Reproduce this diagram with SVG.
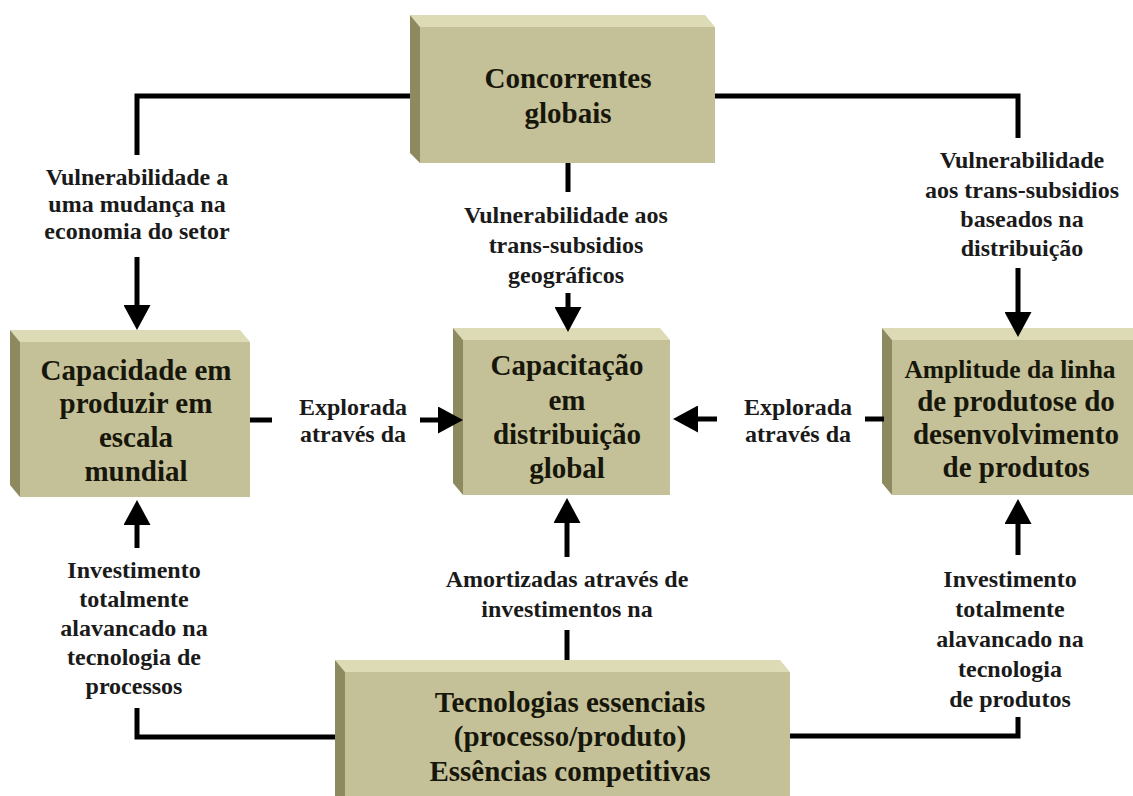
<svg xmlns="http://www.w3.org/2000/svg" width="1133" height="796" viewBox="0 0 1133 796">
<style>
.face{fill:#c4c098}
.top{fill:#dddab6}
.left{fill:#8d8a60}
.bt{font-family:"Liberation Serif","Times New Roman",serif;font-weight:bold;font-size:29px;fill:#16160a;text-anchor:middle}
.lt{font-family:"Liberation Serif","Times New Roman",serif;font-weight:bold;font-size:24px;fill:#1a1a1a;text-anchor:middle}
.ln{fill:none;stroke:#000;stroke-width:5}
</style>
<defs>
<marker id="ah" markerUnits="userSpaceOnUse" viewBox="0 -13.5 25 27" refX="0" refY="0" markerWidth="25" markerHeight="27" orient="auto">
<path d="M0,-13.5 L25,0 L0,13.5 z" fill="#000"/>
</marker>
</defs>
<rect width="1133" height="796" fill="#fff"/>

<g id="node-concorrentes">
<polygon class="top" points="410,15 705,15 715,27 420,27"/>
<polygon class="left" points="410,15 420,27 420,163 410,153"/>
<rect class="face" x="420" y="27" width="295" height="136"/>
<text class="bt" x="568" y="88">Concorrentes</text>
<text class="bt" x="568" y="123">globais</text>
</g>

<g id="node-capacidade">
<polygon class="top" points="10,330 240,330 250,342 20,342"/>
<polygon class="left" points="10,330 20,342 20,497 10,485"/>
<rect class="face" x="20" y="342" width="230" height="155"/>
<text class="bt" x="136" y="380">Capacidade em</text>
<text class="bt" x="136" y="413">produzir em</text>
<text class="bt" x="136" y="447">escala</text>
<text class="bt" x="136" y="481">mundial</text>
</g>

<g id="node-capacitacao">
<polygon class="top" points="453,328 660,328 670,340 463,340"/>
<polygon class="left" points="453,328 463,340 463,495 453,483"/>
<rect class="face" x="463" y="340" width="207" height="155"/>
<text class="bt" x="567" y="375">Capacitação</text>
<text class="bt" x="567" y="410">em</text>
<text class="bt" x="567" y="444">distribuição</text>
<text class="bt" x="567" y="478">global</text>
</g>

<g id="node-amplitude">
<polygon class="top" points="882,328 1133,328 1133,340 892,340"/>
<polygon class="left" points="882,328 892,340 892,495 882,483"/>
<rect class="face" x="892" y="340" width="241" height="155"/>
<text class="bt" x="1010" y="378" style="font-size:25.5px">Amplitude da linha</text>
<text class="bt" x="1016" y="411">de produtose do</text>
<text class="bt" x="1016" y="444">desenvolvimento</text>
<text class="bt" x="1016" y="477">de produtos</text>
</g>

<g id="node-tecnologias">
<polygon class="top" points="335,660 780,660 790,672 345,672"/>
<polygon class="left" points="335,660 345,672 345,796 335,796"/>
<rect class="face" x="345" y="672" width="445" height="124"/>
<text class="bt" x="570" y="712">Tecnologias essenciais</text>
<text class="bt" x="570" y="746">(processo/produto)</text>
<text class="bt" x="570" y="781">Essências competitivas</text>
</g>

<g id="connectors">
<path class="ln" d="M410,96 H137 V155"/>
<path class="ln" d="M137,257 V305" marker-end="url(#ah)"/>
<path class="ln" d="M568,163 V192"/>
<path class="ln" d="M568,293 V307" marker-end="url(#ah)"/>
<path class="ln" d="M715,96 H1018 V138"/>
<path class="ln" d="M1018,268 V312" marker-end="url(#ah)"/>
<path class="ln" d="M250,420 H272"/>
<path class="ln" d="M420,420 H438" marker-end="url(#ah)"/>
<path class="ln" d="M865,419 H884"/>
<path class="ln" d="M717,419 H698" marker-end="url(#ah)"/>
<path class="ln" d="M335,737 H137 V708"/>
<path class="ln" d="M137,548 V525" marker-end="url(#ah)"/>
<path class="ln" d="M567,660 V630"/>
<path class="ln" d="M567,557 V523" marker-end="url(#ah)"/>
<path class="ln" d="M790,736 H1018 V717"/>
<path class="ln" d="M1018,555 V524" marker-end="url(#ah)"/>
</g>

<g id="labels">
<text class="lt" x="137" y="185">Vulnerabilidade a</text>
<text class="lt" x="137" y="212">uma mudança na</text>
<text class="lt" x="137" y="239">economia do setor</text>
<text class="lt" x="566" y="223">Vulnerabilidade aos</text>
<text class="lt" x="566" y="253">trans-subsidios</text>
<text class="lt" x="566" y="283">geográficos</text>
<text class="lt" x="1022" y="168">Vulnerabilidade</text>
<text class="lt" x="1022" y="198">aos trans-subsidios</text>
<text class="lt" x="1022" y="227">baseados na</text>
<text class="lt" x="1022" y="256">distribuição</text>
<text class="lt" x="353" y="415">Explorada</text>
<text class="lt" x="353" y="442">através da</text>
<text class="lt" x="798" y="415">Explorada</text>
<text class="lt" x="798" y="442">através da</text>
<text class="lt" x="134" y="578">Investimento</text>
<text class="lt" x="134" y="607">totalmente</text>
<text class="lt" x="134" y="636">alavancado na</text>
<text class="lt" x="134" y="665">tecnologia de</text>
<text class="lt" x="134" y="694">processos</text>
<text class="lt" x="567" y="587">Amortizadas através de</text>
<text class="lt" x="567" y="617">investimentos na</text>
<text class="lt" x="1010" y="587">Investimento</text>
<text class="lt" x="1010" y="617">totalmente</text>
<text class="lt" x="1010" y="647">alavancado na</text>
<text class="lt" x="1010" y="677">tecnologia</text>
<text class="lt" x="1010" y="707">de produtos</text>
</g>
</svg>
